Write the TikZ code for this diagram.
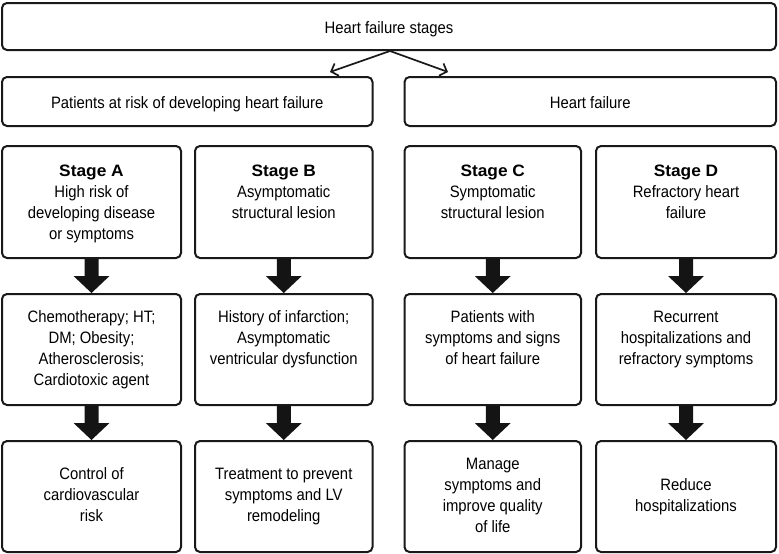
\documentclass[tikz,border=0pt]{standalone}
\usepackage{fontspec}
\setmainfont{Liberation Sans}[FakeStretch=0.9]
\newfontfamily\stagefont{Liberation Sans}[FakeStretch=1.05]
\usetikzlibrary{arrows.meta,calc}
\begin{document}
\begin{tikzpicture}[x=1pt,y=-1pt,
  box/.style={draw=black!90, line width=2pt, rounded corners=5pt, inner sep=0pt},
  txt/.style={font=\fontsize{16.5}{21}\selectfont, align=center, inner sep=0pt, text=black},
  blockfill/.style={fill=black!92},
  thinarrow/.style={line width=1.7pt, draw=black!90, -{Straight Barb[length=6pt,width=13pt]}}]
\useasboundingbox (0,0) rectangle (779,554);

% top rows
\node[box, minimum width=774pt, minimum height=47pt] (top) at (389,26.5) {};
\node[txt, anchor=base] (toptext) at (389,33.3) {Heart failure stages};
\node[box, minimum width=370.5pt, minimum height=49pt] (L2) at (187.25,101.5) {};
\node[txt, anchor=base] (L2text) at (187.25,108) {Patients at risk of developing heart failure};
\node[box, minimum width=371.5pt, minimum height=49pt] (R2) at (590.25,101.5) {};
\node[txt, anchor=base] (R2text) at (590.25,108) {Heart failure};

\coordinate (apex) at (390,50);
\coordinate (la) at (330,72);
\coordinate (ra) at (448,72);
\draw[thinarrow] (top.south -| apex) -- (la);
\draw[thinarrow] (top.south -| apex) -- (ra);

% row 3
\node[box, minimum width=179pt, minimum height=112pt] (A3) at (91.5,202) {};
\node[box, minimum width=177.5pt, minimum height=112pt] (B3) at (283.75,202) {};
\node[box, minimum width=176.5pt, minimum height=112pt] (C3) at (492.75,202) {};
\node[box, minimum width=180pt, minimum height=112pt] (D3) at (686,202) {};
\node[txt, anchor=north] (A3t) at (91.5,161.3) {\strut{\stagefont\bfseries Stage A}\\\strut High risk of\\\strut developing disease\\\strut or symptoms};
\node[txt, anchor=north] (B3t) at (283.75,161.3) {\strut{\stagefont\bfseries Stage B}\\\strut Asymptomatic\\\strut structural lesion};
\node[txt, anchor=north] (C3t) at (492.75,161.3) {\strut{\stagefont\bfseries Stage C}\\\strut Symptomatic\\\strut structural lesion};
\node[txt, anchor=north] (D3t) at (686,161.3) {\strut{\stagefont\bfseries Stage D}\\\strut Refractory heart\\\strut failure};

% row 4
\node[box, minimum width=179pt, minimum height=111pt] (A4) at (91.5,349.5) {};
\node[box, minimum width=177.5pt, minimum height=111pt] (B4) at (283.75,349.5) {};
\node[box, minimum width=176.5pt, minimum height=111pt] (C4) at (492.75,349.5) {};
\node[box, minimum width=180pt, minimum height=111pt] (D4) at (686,349.5) {};
\node[txt, anchor=north] (A4t) at (91.5,307.3) {\strut Chemotherapy; HT;\\\strut DM; Obesity;\\\strut Atherosclerosis;\\\strut Cardiotoxic agent};
\node[txt, anchor=north] (B4t) at (283.75,307.3) {\strut History of infarction;\\\strut Asymptomatic\\\strut ventricular dysfunction};
\node[txt, anchor=north] (C4t) at (492.75,307.3) {\strut Patients with\\\strut symptoms and signs\\\strut of heart failure};
\node[txt, anchor=north] (D4t) at (686,307.3) {\strut Recurrent\\\strut hospitalizations and\\\strut refractory symptoms};

% row 5
\node[box, minimum width=179pt, minimum height=111pt] (A5) at (91.5,496.5) {};
\node[box, minimum width=177.5pt, minimum height=111pt] (B5) at (283.75,496.5) {};
\node[box, minimum width=176.5pt, minimum height=111pt] (C5) at (492.75,496.5) {};
\node[box, minimum width=180pt, minimum height=111pt] (D5) at (686,496.5) {};
\node[txt] (A5t) at (A5.center) {\strut Control of\\\strut cardiovascular\\\strut risk};
\node[txt] (B5t) at (B5.center) {\strut Treatment to prevent\\\strut symptoms and LV\\\strut remodeling};
\node[txt] (C5t) at (C5.center) {\strut Manage\\\strut symptoms and\\\strut improve quality\\\strut of life};
\node[txt] (D5t) at (D5.center) {\strut Reduce\\\strut hospitalizations};

% block arrows
\foreach \a/\b in {A3/A4,A4/A5,B3/B4,B4/B5,C3/C4,C4/C5,D3/D4,D4/D5}{
  \fill[blockfill] ($(\a.south)+(-7,0)$) -- ($(\a.south |- \b.north)+(-7,-17)$)
    -- ($(\a.south |- \b.north)+(-18,-17)$) -- (\a.south |- \b.north)
    -- ($(\a.south |- \b.north)+(18,-17)$) -- ($(\a.south |- \b.north)+(7,-17)$)
    -- ($(\a.south)+(7,0)$) -- cycle;
}
\end{tikzpicture}
\end{document}
